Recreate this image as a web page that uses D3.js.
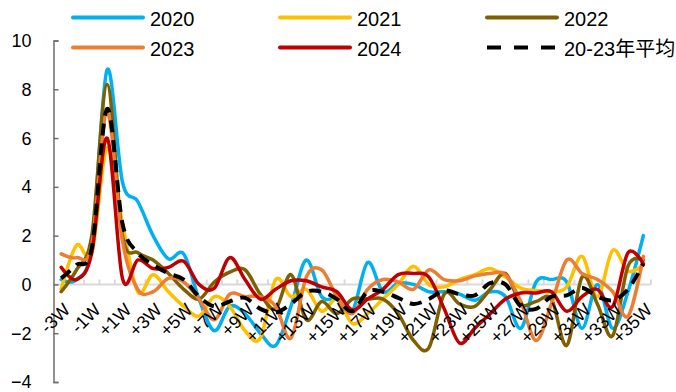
<!DOCTYPE html>
<html>
<head>
<meta charset="utf-8">
<script src="https://cdn.jsdelivr.net/npm/d3@7"></script>
<style>
  html, body { margin: 0; padding: 0; background: #fff; }
  svg { display: block; font-family: "Liberation Sans", Arial, "Noto Sans CJK SC", sans-serif; }
</style>
</head>
<body>
<svg id="chart" width="676" height="392"></svg>
<script>
// Weekly change, weeks counted around the holiday (0W)
const weeks = ["-3W","-2W","-1W","0W","+1W","+2W","+3W","+4W","+5W","+6W","+7W","+8W","+9W","+10W",
  "+11W","+12W","+13W","+14W","+15W","+16W","+17W","+18W","+19W","+20W","+21W","+22W","+23W",
  "+24W","+25W","+26W","+27W","+28W","+29W","+30W","+31W","+32W","+33W","+34W","+35W"];

const s2020 = [0.2, 0.2, 1.6, 8.8, 4.2, 3.4, 2.0, 1.05, 1.25, -0.6, -1.9, -0.9, -1.2, -2.0, -2.5, -0.9, 1.0, -0.5, -0.6, -1.1,
  0.9, -0.3, 0.05, 0.0, -0.3, -0.3, -0.4, -0.65, -0.3, -0.5, -1.8, 0.1, 0.2, 0.1, -1.8, 0.0, -1.8, -0.3, 2.0];
const s2021 = [-0.2, 1.6, 1.3, 5.6, 2.5, -0.3, 0.4, -0.3, -0.9, -1.3, -0.5, -0.9, -1.9, -2.2, 0.2, -0.5, -0.2, -1.1, -0.6, -1.6,
  -1.2, -0.6, 0.0, 0.75, 0.0, -0.1, 0.2, 0.4, 0.65, 0.3, -0.15, -0.25, -0.3, -0.1, 1.15, -0.5, 1.4, 0.55, 0.8];
const s2022 = [-0.3, 0.6, 2.0, 8.2, 2.0, 1.3, 1.0, 0.45, -0.2, -0.6, 0.1, 0.5, 0.6, -0.4, -1.0, 0.4, -1.45, -0.7, -1.2, -0.6,
  -0.6, -0.6, -1.2, -2.3, -2.6, -0.4, -0.8, -0.9, -0.2, 0.45, -0.8, -0.7, -0.6, -2.5, 0.3, -0.8, -2.1, 0.75, 1.0];
const s2023 = [1.25, 1.1, 1.6, 7.05, 1.8, -0.2, -0.3, 0.25, 0.1, -0.6, -1.45, -0.4, -0.5, -0.5, -0.9, -2.2, 0.3, 0.6, -0.5, -1.2,
  -0.2, 0.2, 0.1, -0.2, 0.6, 0.2, 0.15, 0.35, 0.45, 0.4, -0.7, -2.3, -0.8, 1.0, 0.45, 0.2, -0.3, -1.3, 1.15];
const s2024 = [0.7, 0.2, 1.3, 6.0, 0.25, 1.0, 0.65, 0.7, 0.95, 0.0, -0.15, 1.1, 0.2, -0.6, -0.2, 0.15, 0.15, -0.1, -0.3, -1.05,
  -0.6, -0.2, 0.4, 0.45, 0.3, -1.0, -2.4, -1.8, -1.2, -0.6, -0.35, -0.35, -0.3, -1.1, -0.5, -0.2, -0.9, 1.3, 0.85];
const avg2023 = [0.25, 0.8, 1.5, 7.2, 2.5, 1.3, 0.8, 0.45, 0.2, -0.5, -0.9, -0.7, -0.55, -1.0, -1.15, -0.8, -0.3, -0.3, -0.6, -1.1,
  -0.3, -0.3, -0.55, -0.8, -0.6, -0.25, -0.4, -0.45, 0.05, 0.0, -0.9, -1.0, -0.5, -0.45, -0.15, -0.5, -0.65, -0.2, 0.85];

const yTicks = [-4, -2, 0, 2, 4, 6, 8, 10];

const seriesNames = ["2020", "2021", "2022", "2023", "2024", "20-23年平均"];
const seriesValues = [s2020, s2021, s2022, s2023, s2024, avg2023];
const seriesColors = ["#00B0F0", "#FFC000", "#7F6000", "#ED7D31", "#C00000", "#000000"];

const svg = d3.select("#chart");

const x = d3.scaleBand().domain(weeks).range([53.5, 651]).paddingInner(0).paddingOuter(0);
const y = d3.scaleLinear().domain([-4, 10]).range([382, 40.5]);
const cx = d => x(d) + x.bandwidth() / 2;

// category axis along zero
const xAxisG = svg.append("g");
xAxisG.append("line")
  .attr("x1", x.range()[0]).attr("x2", x.range()[1])
  .attr("y1", y(0)).attr("y2", y(0))
  .attr("stroke", "#D9D9D9").attr("stroke-width", 2);
const bounds = weeks.map(d => x(d)).concat([x.range()[1]]);
xAxisG.selectAll("line.tk").data(bounds.slice(1)).join("line")
  .attr("class", "tk")
  .attr("x1", d => d).attr("x2", d => d)
  .attr("y1", y(0)).attr("y2", y(0) - 5)
  .attr("stroke", "#D9D9D9").attr("stroke-width", 2);

// value axis
const yAxis = d3.axisLeft(y).tickValues(yTicks).tickSize(-5).tickPadding(22).tickFormat(d3.format("d"));
const yG = svg.append("g").attr("transform", "translate(53.5,0)").call(yAxis);
yG.select(".domain").attr("stroke", "#6E6E6E").attr("stroke-width", 1.5);
yG.selectAll(".tick line").attr("stroke", "#6E6E6E").attr("stroke-width", 1.5);
yG.selectAll(".tick text")
  .attr("font-size", 18).attr("fill", "#000")
  .attr("font-family", "'Liberation Sans', Arial, sans-serif")
  .attr("dy", "0.33em");

// line marks
const line = d3.line()
  .x((v, i) => cx(weeks[i]))
  .y(v => y(v))
  .curve(d3.curveCardinal.tension(0));

seriesValues.forEach((vals, k) => {
  svg.append("path")
    .datum(vals)
    .attr("d", line)
    .attr("fill", "none")
    .attr("stroke", seriesColors[k])
    .attr("stroke-width", k === 5 ? 4 : 3.5)
    .attr("stroke-linejoin", "round")
    .attr("stroke-linecap", k === 5 ? "butt" : "round")
    .attr("stroke-dasharray", k === 5 ? "12,8" : null);
});

// rotated week labels, every other category
svg.append("g").selectAll("text")
  .data(weeks.filter((d, i) => i % 2 === 0))
  .join("text")
  .attr("transform", d => `translate(${cx(d) + 10},${311}) rotate(-45)`)
  .attr("text-anchor", "end")
  .attr("font-size", 18)
  .attr("fill", "#000")
  .text(d => d);

// legend
const legendCols = [73, 280, 487];
const legendRows = [17.5, 47.5];
const lg = svg.append("g");
seriesNames.forEach((name, k) => {
  const lx = legendCols[k % 3], ly = legendRows[Math.floor(k / 3)];
  lg.append("line")
    .attr("x1", lx).attr("x2", lx + 70)
    .attr("y1", ly).attr("y2", ly)
    .attr("stroke", seriesColors[k])
    .attr("stroke-width", 4)
    .attr("stroke-linecap", k === 5 ? "butt" : "round")
    .attr("stroke-dasharray", k === 5 ? "14,13" : null);
  lg.append("text")
    .attr("x", lx + 77).attr("y", ly + 8)
    .attr("font-size", 20)
    .attr("fill", "#000")
    .text(name);
});
</script>
</body>
</html>
